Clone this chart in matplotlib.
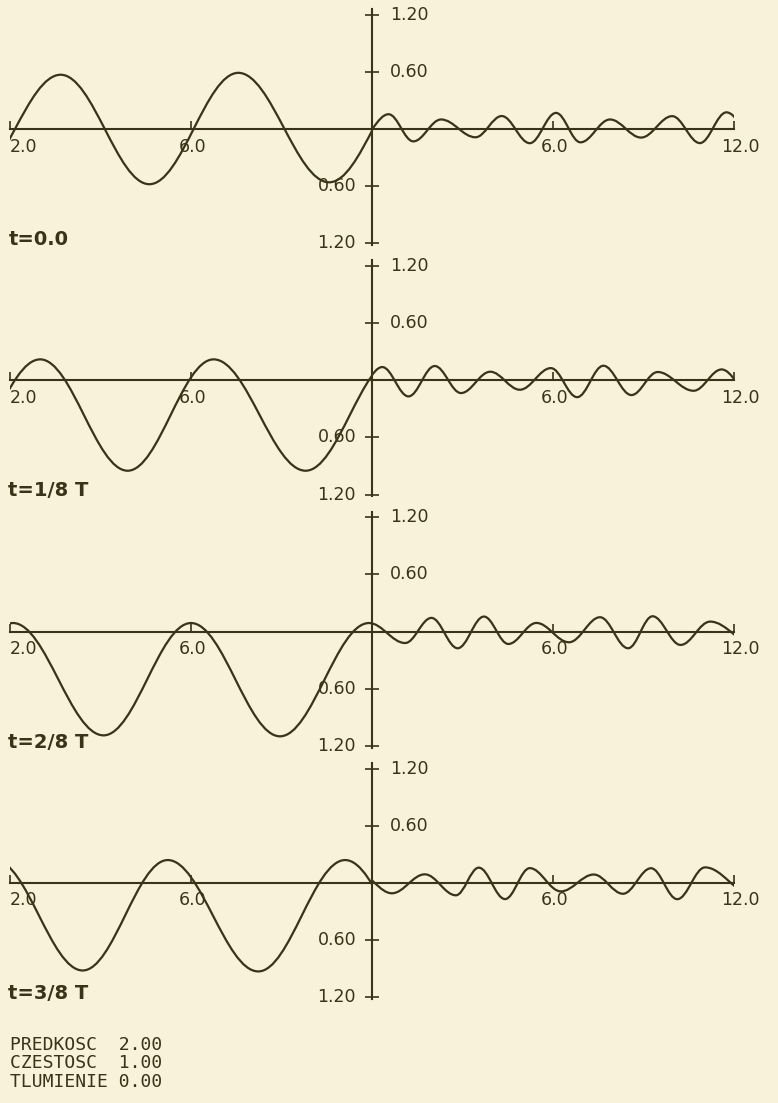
import matplotlib
matplotlib.use('Agg')
import matplotlib.pyplot as plt
from matplotlib.path import Path
from matplotlib.patches import PathPatch, Rectangle

BG = '#f7f2d9'
INK = '#3a3219'

time_labels = ['t=0.0', 't=1/8 T', 't=2/8 T', 't=3/8 T']

# extrema of the curve (x, y); points just outside the
# drawn range only give the curve its slope at the edges
left_x_0 = [-13.35, -10.32, -7.38, -4.43, -1.42, 1.5]
left_y_0 = [-0.57, 0.57, -0.58, 0.59, -0.56, 0.57]
right_x_0 = [-0.45, 0.55, 1.37, 2.29, 3.43, 4.30, 5.23, 6.10, 6.91, 7.89, 8.92, 9.95, 10.87, 11.75, 12.7]
right_y_0 = [-0.12, 0.155, -0.13, 0.10, -0.087, 0.136, -0.149, 0.169, -0.14, 0.10, -0.09, 0.135, -0.148, 0.175, -0.10]

left_x_1 = [-13.95, -11.0, -8.1, -5.25, -2.2, 0.73]
left_y_1 = [-0.95, 0.22, -0.95, 0.22, -0.95, 0.22]
right_x_1 = [-0.59, 0.34, 1.21, 2.08, 2.95, 3.92, 4.90, 5.93, 6.80, 7.67, 8.60, 9.47, 10.66, 11.59, 12.5]
right_y_1 = [-0.15, 0.139, -0.169, 0.150, -0.134, 0.09, -0.099, 0.128, -0.177, 0.153, -0.155, 0.087, -0.11, 0.114, -0.12]

left_x_2 = [-14.8, -11.9, -8.9, -6.0, -3.05, -0.1, 2.8]
left_y_2 = [-1.09, 0.09, -1.09, 0.09, -1.10, 0.09, -1.10]
right_x_2 = [-0.1, 1.10, 1.97, 2.84, 3.71, 4.52, 5.45, 6.53, 7.56, 8.49, 9.30, 10.23, 11.21, 12.7]
right_y_2 = [0.09, -0.12, 0.144, -0.175, 0.158, -0.130, 0.091, -0.112, 0.151, -0.175, 0.161, -0.14, 0.105, -0.14]

left_x_3 = [-12.5, -9.59, -6.77, -3.77, -0.89, 2.0]
left_y_3 = [0.24, -0.92, 0.24, -0.93, 0.24, -0.93]
right_x_3 = [-0.45, 0.66, 1.75, 2.78, 3.54, 4.41, 5.23, 6.26, 7.35, 8.32, 9.25, 10.12, 11.04, 12.6]
right_y_3 = [0.10, -0.109, 0.09, -0.13, 0.16, -0.17, 0.155, -0.089, 0.088, -0.114, 0.154, -0.171, 0.163, -0.12]

left_curves = [(left_x_0, left_y_0), (left_x_1, left_y_1), (left_x_2, left_y_2), (left_x_3, left_y_3)]
right_curves = [(right_x_0, right_y_0), (right_x_1, right_y_1), (right_x_2, right_y_2), (right_x_3, right_y_3)]

xticks = [-12, -6, 6, 12]
xtick_labels = ['2.0', '6.0', '6.0', '12.0']   # the "1" of the left 12.0 is cut off
yticks = [-1.2, -0.6, 0.6, 1.2]
ytick_labels = ['1.20', '0.60', '0.60', '1.20']

param_names = ['PREDKOSC', 'CZESTOSC', 'TLUMIENIE']
param_values = [2.00, 1.00, 0.00]

YLIM = 1.32


def wave_path(xs, ys, a=0.3634):
    # cosine-like cubic between neighbouring extrema (flat at both ends)
    verts = [(xs[0], ys[0])]
    codes = [Path.MOVETO]
    for x0, y0, x1, y1 in zip(xs[:-1], ys[:-1], xs[1:], ys[1:]):
        d = x1 - x0
        verts += [(x0 + a * d, y0), (x1 - a * d, y1), (x1, y1)]
        codes += [Path.CURVE4] * 3
    return Path(verts, codes)


def draw_wave(ax, xs, ys, lo, hi):
    patch = PathPatch(wave_path(xs, ys), fill=False, ec=INK, lw=1.6)
    ax.add_patch(patch)
    patch.set_clip_path(Rectangle((lo, -YLIM), hi - lo, 2 * YLIM, transform=ax.transData))


def draw_panel(ax, i):
    ax.set_xlim(-12, 12)
    ax.set_ylim(-YLIM, YLIM)
    ax.set_facecolor('none')
    for s in ['top', 'right']:
        ax.spines[s].set_visible(False)
    ax.spines['left'].set_position('zero')
    ax.spines['bottom'].set_position('zero')
    ax.spines['left'].set_bounds(-1.22, 1.26)
    ax.spines['bottom'].set_bounds(-12, 12)
    for s in ['left', 'bottom']:
        ax.spines[s].set_color(INK)
        ax.spines[s].set_linewidth(1.5)

    ax.set_xticks(xticks)
    ax.set_yticks(yticks)
    ax.tick_params(axis='y', direction='inout', length=10, width=1.2, color=INK, labelleft=False)
    ax.tick_params(axis='x', direction='in', length=6, width=1.2, color=INK, labelbottom=False)

    for t, lab in zip(yticks, ytick_labels):
        if t > 0:
            ax.text(0.6, t, lab, ha='left', va='center', fontsize=12.5, color=INK)
        else:
            ax.text(-0.53, t, lab, ha='right', va='center', fontsize=12.5, color=INK)
    for t, lab in zip(xticks, xtick_labels):
        ax.text(max(t - 0.42, -12.0), -0.09, lab, ha='left', va='top', fontsize=12.5, color=INK)

    ax.text(-12.05, -1.16, time_labels[i], ha='left', va='center', fontsize=14,
            fontweight='bold', color=INK)

    draw_wave(ax, *left_curves[i], -12, 0)
    draw_wave(ax, *right_curves[i], 0, 12)


W, H = 778, 1103
fig = plt.figure(figsize=(W / 100, H / 100), dpi=100, facecolor=BG)

panel_h = 251.3
for i in range(4):
    top = 3.35 + i * panel_h
    ax = fig.add_axes([10 / W, 1 - (top + panel_h) / H, 724 / W, panel_h / H])
    draw_panel(ax, i)

for k, (name, val) in enumerate(zip(param_names, param_values)):
    fig.text(10 / W, 1 - (1045 + 18.5 * k) / H, f'{name:<10}{val:.2f}',
             ha='left', va='center', family='DejaVu Sans Mono', fontsize=13, color=INK)

fig.savefig('out.png', dpi=100, facecolor=BG)
